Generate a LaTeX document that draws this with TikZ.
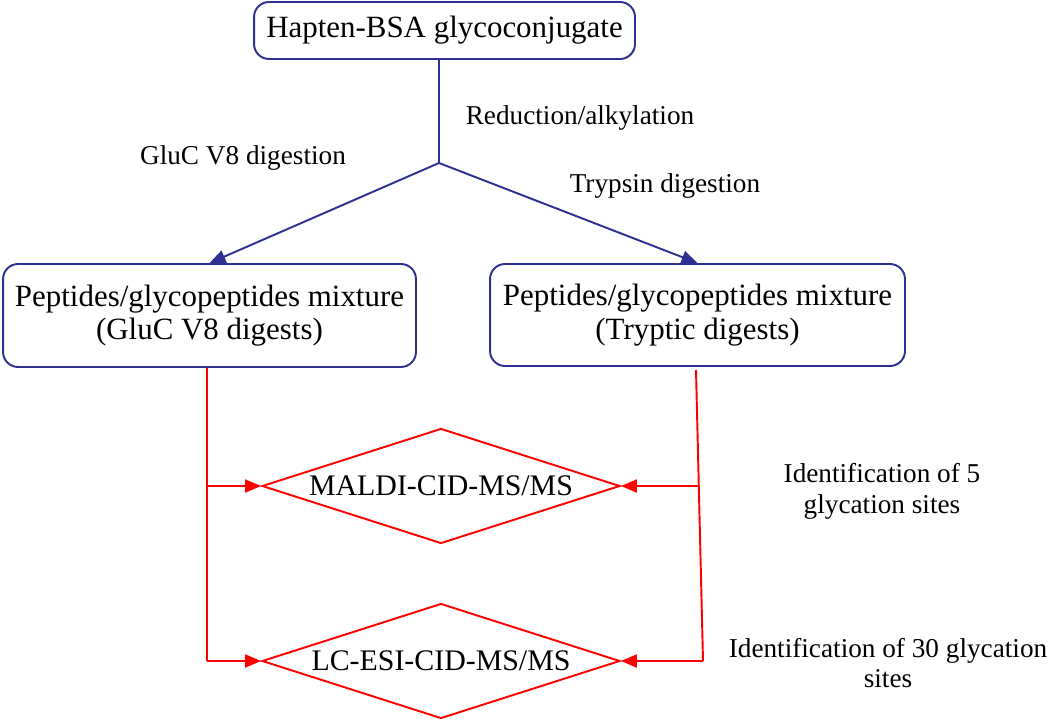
\documentclass[tikz,border=0pt]{standalone}
\usepackage{fontspec}
\setmainfont{Liberation Serif}
\usetikzlibrary{arrows.meta,shapes.geometric}
\definecolor{flowblue}{RGB}{46,49,146}
\definecolor{flowred}{RGB}{255,0,0}

\begin{document}
\begin{tikzpicture}[
    x = 0.02cm, y = -0.02cm, % pixel grid
    > = {Triangle[length=0.32cm,width=0.26cm]}, % arrow head style
    line width = 1.1pt, % line style
    step box/.style={rectangle,rounded corners=0.3cm,draw=flowblue,align=center,inner sep=0pt},
    test node/.style={diamond,aspect=3.11,draw=flowred,inner sep=0pt,minimum width=7.16cm,minimum height=2.3cm,font=\fontsize{17}{19}\selectfont},
    note/.style={align=center,font=\fontsize{15.5}{17.6}\selectfont}
  ]
  \useasboundingbox (0,0) rectangle (1050,719);

  % Boxes
  \node[step box,minimum width=7.62cm,minimum height=1.14cm,font=\fontsize{17.6}{20}\selectfont] (conj) at (444.5,30.5) {Hapten-BSA glycoconjugate};
  \node[step box,minimum width=8.26cm,minimum height=2.06cm,font=\fontsize{17.6}{19}\selectfont] (gluc) at (209.5,315.5) {Peptides/glycopeptides mixture\\(GluC V8 digests)};
  \node[step box,minimum width=8.3cm,minimum height=2.04cm,font=\fontsize{17.6}{19}\selectfont] (tryp) at (697.5,315) {Peptides/glycopeptides mixture\\(Tryptic digests)};

  % Diamonds
  \node[test node] (maldi) at (441,486) {MALDI-CID-MS/MS};
  \node[test node] (lcesi) at (441,661) {LC-ESI-CID-MS/MS};

  % Split point and red rails
  \coordinate (split) at (439,163);
  \coordinate (ltop) at (207,368);
  \coordinate (lmid) at (207,486);
  \coordinate (lbot) at (207,661);
  \coordinate (rtop) at (696,370);
  \coordinate (rmid) at (700,486);
  \coordinate (rbot) at (703,661);

  % Blue edges
  \draw[flowblue] (split |- conj.south) -- (split);
  \draw[flowblue,->] (split) -- (gluc.north);
  \draw[flowblue,->] (split) -- (tryp.north);

  % Red edges
  \draw[flowred] (ltop) -- (lbot);
  \draw[flowred,->] (lmid) -- (maldi.west);
  \draw[flowred,->] (lbot) -- (lcesi.west);
  \draw[flowred] (rtop) -- (rbot);
  \draw[flowred,->] (rmid) -- (maldi.east);
  \draw[flowred,->] (rbot) -- (lcesi.east);

  % Labels
  \node[note] (reduc) at (580,118) {Reduction/alkylation};
  \node[note] (glucl) at (243,158) {GluC V8 digestion};
  \node[note] (trypl) at (665,186) {Trypsin digestion};
  \node[note] (five) at (882,491) {Identification of 5\\glycation sites};
  \node[note] (thirty) at (888,663) {Identification of 30 glycation\\sites};
\end{tikzpicture}
\end{document}
